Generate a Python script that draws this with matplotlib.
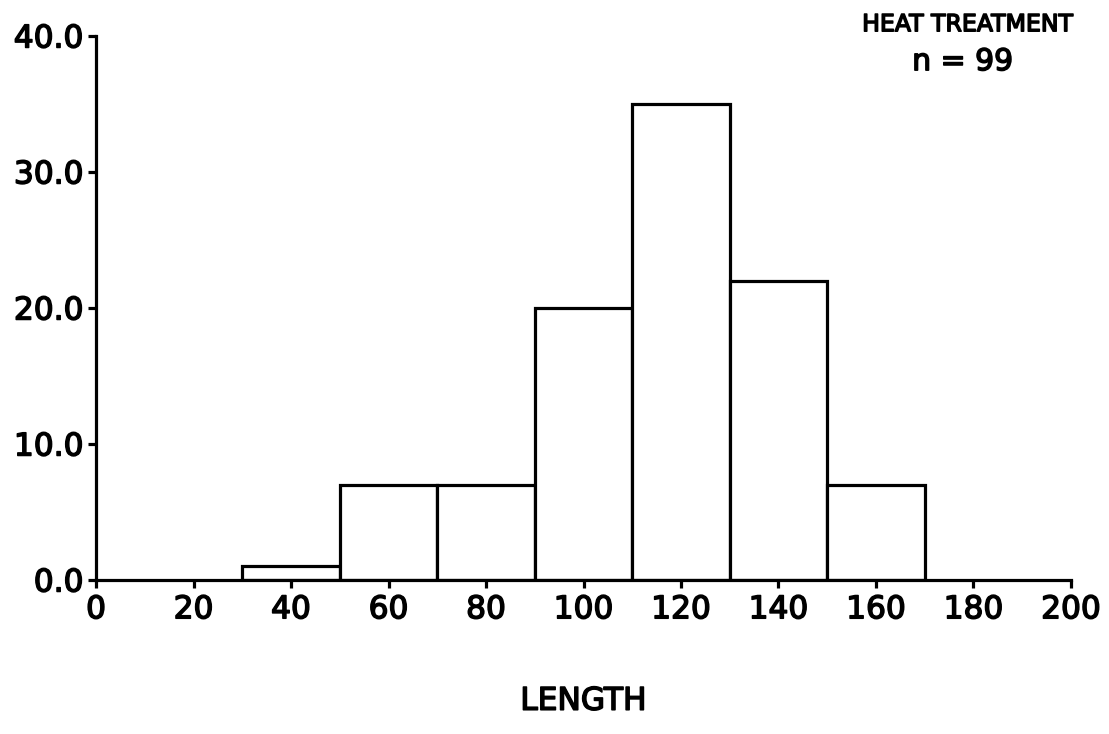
import matplotlib
matplotlib.use("Agg")
import matplotlib.pyplot as plt
import matplotlib.patheffects as pe
import numpy as np

# length-class histogram, heat treatment group
bin_edges = [30, 50, 70, 90, 110, 130, 150, 170]
counts = [1, 7, 7, 20, 35, 22, 7]
x_ticks = [0, 20, 40, 60, 80, 100, 120, 140, 160, 180, 200]
y_ticks = [0, 10, 20, 30, 40]

plt.rcParams.update({
    "font.family": ["DejaVu Sans"],
    "font.size": 22.5,
})

# slightly heavier than regular weight, lighter than bold
heavy = [pe.withStroke(linewidth=1.1, foreground="black")]

fig = plt.figure(figsize=(11.09, 7.34), dpi=100)
ax = fig.add_axes([0.0866, 0.2098, 0.8791, 0.7412])

left = np.array(bin_edges[:-1])
widths = np.diff(bin_edges)
ax.bar(left, counts, width=widths, align="edge", color="white",
       edgecolor="black", linewidth=2.3)

ax.set_xlim(0, 200)
ax.set_ylim(0, 40)
ax.set_xticks(x_ticks)
ax.set_yticks(y_ticks)
ax.set_yticklabels([f"{v:.1f}" for v in y_ticks])

for side in ("top", "right"):
    ax.spines[side].set_visible(False)
for side in ("left", "bottom"):
    ax.spines[side].set_linewidth(2.3)

ax.tick_params(axis="both", direction="out", length=6, width=2.3,
               labelsize=22.5)
ax.tick_params(axis="x", pad=5)
ax.tick_params(axis="y", pad=3)
for lbl in ax.get_xticklabels() + ax.get_yticklabels():
    lbl.set_path_effects(heavy)

xl = ax.set_xlabel("LENGTH", fontsize=22.5, labelpad=45)
xl.set_path_effects(heavy)

fig.text(0.873, 0.967, "HEAT TREATMENT", fontsize=17, ha="center",
         va="center", path_effects=heavy)
fig.text(0.868, 0.916, "n = 99", fontsize=21.5, ha="center", va="center",
         path_effects=heavy)

fig.savefig("out.png", dpi=100)
